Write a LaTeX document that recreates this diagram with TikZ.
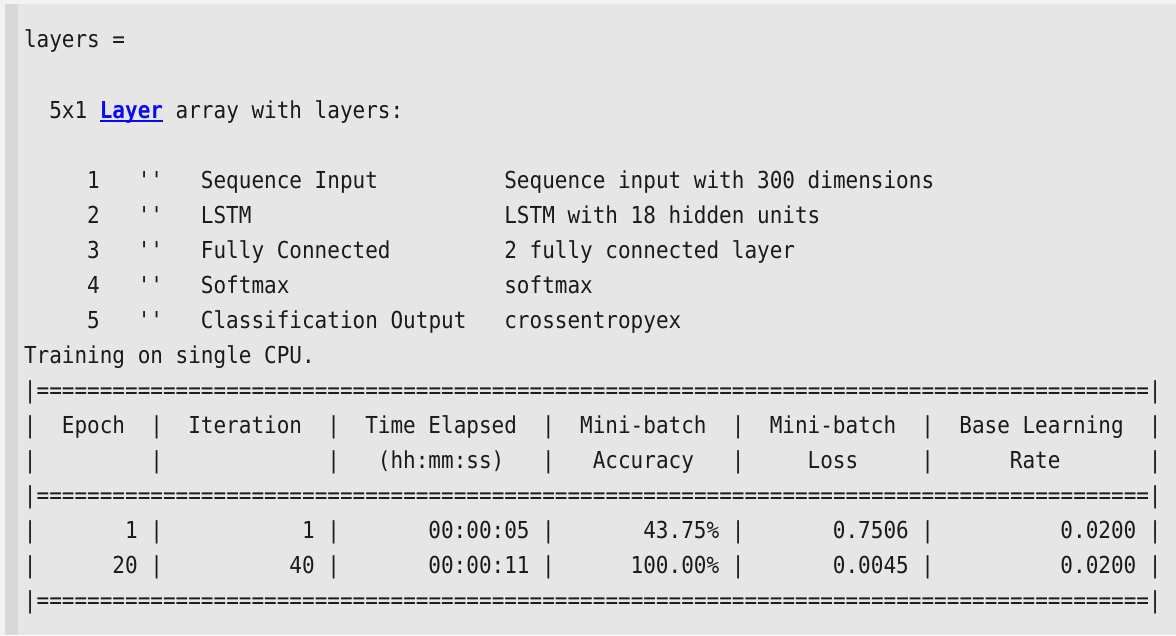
\documentclass[tikz,border=0pt]{standalone}
\usepackage{fontspec}
\usepackage{xcolor}
\usepackage{tikz}
\newfontfamily\consfont[FakeStretch=0.9,Ligatures=TeXOff]{DejaVu Sans Mono}
\definecolor{pane}{HTML}{E6E6E6}
\definecolor{gutter}{HTML}{D8D8D8}
\definecolor{rim}{HTML}{F2F2F2}
\definecolor{ink}{HTML}{1A1A1A}
\definecolor{linkblue}{HTML}{0A0AF0}
% column width, left margin, first baseline, line pitch (px)
\def\cw{12.64}
\def\xo{24}
\def\yo{48}
\def\lh{35}

\begin{document}
\begin{tikzpicture}[x=0.75pt, y=-0.75pt,
    txt/.style={font=\consfont\fontsize{17.5}{21}\selectfont, text=ink, anchor=base west, inner sep=0pt, outer sep=0pt},
    num/.style={txt, anchor=base east},
    bar/.style={txt, anchor=base},
    lnk/.style={txt, font=\consfont\bfseries\fontsize{17.5}{21}\selectfont, text=linkblue}]
    \useasboundingbox (0,0) rectangle (1176,635);
    % window
    \fill[rim] (0,0) rectangle (1176,635);
    \fill[gutter] (5,4) rectangle (18,635);
    \fill[pane] (18,4) rectangle (1176,635);
    % output header
    \node[txt] (lhs) at (\xo,\yo) {layers =};
    \node[txt] (dims) at ({\xo+2*\cw},{\yo+2*\lh}) {5x1};
    \node[lnk] (link) at ({\xo+6*\cw},{\yo+2*\lh}) {Layer};
    \node[txt] (rest) at ({\xo+12*\cw},{\yo+2*\lh}) {array with layers:};
    \draw[linkblue, line width=1.2pt] ([yshift=1.5pt]link.south west) -- ([yshift=1.5pt]link.south east);
    % layer list
    \foreach \n/\kind/\desc [count=\i from 4] in {1/Sequence Input/Sequence input with 300 dimensions, 2/LSTM/LSTM with 18 hidden units, 3/Fully Connected/2 fully connected layer, 4/Softmax/softmax, 5/Classification Output/crossentropyex} {
      \node[txt] (num\n) at ({\xo+5*\cw},{\yo+\i*\lh}) {\n};
      \node[txt] (quo\n) at ({\xo+9*\cw},{\yo+\i*\lh}) {''};
      \node[txt] (kind\n) at ({\xo+14*\cw},{\yo+\i*\lh}) {\kind};
      \node[txt] (desc\n) at ({\xo+38*\cw},{\yo+\i*\lh}) {\desc};
    }
    \node[txt] (train) at (\xo,{\yo+9*\lh}) {Training on single CPU.};
    % progress table rules
    \foreach \r in {10,13,16} {
      \node[bar] (edgeL\r) at ({\xo+0.5*\cw},{\yo+\r*\lh}) {|};
      \node[txt] (rule\r) at ({\xo+\cw},{\yo+\r*\lh}) {========================================================================================};
      \node[bar] (edgeR\r) at ({\xo+89.5*\cw},{\yo+\r*\lh}) {|};
    }
    % column bars
    \foreach \r in {11,12,14,15}
      \foreach \c in {0,10,24,41,56,71,89}
        \node[bar] (pipe\r-\c) at ({\xo+(\c+0.5)*\cw},{\yo+\r*\lh}) {|};
    % headings
    \foreach \c/\t [count=\i] in {3/Epoch, 13/Iteration, 27/Time Elapsed, 44/Mini-batch, 59/Mini-batch, 74/Base Learning}
      \node[txt] (head\i) at ({\xo+\c*\cw},{\yo+11*\lh}) {\t};
    \foreach \c/\t [count=\i] in {28/{(hh:mm:ss)}, 45/Accuracy, 62/Loss, 78/Rate}
      \node[txt] (unit\i) at ({\xo+\c*\cw},{\yo+12*\lh}) {\t};
    % iterations
    \foreach \e/\a/\b [count=\i] in {9/1/20, 23/1/40, 40/00:00:05/00:00:11, 55/43.75\%/100.00\%, 70/0.7506/0.0045, 88/0.0200/0.0200} {
      \node[num] (first\i) at ({\xo+\e*\cw},{\yo+14*\lh}) {\a};
      \node[num] (second\i) at ({\xo+\e*\cw},{\yo+15*\lh}) {\b};
    }
\end{tikzpicture}
\end{document}
